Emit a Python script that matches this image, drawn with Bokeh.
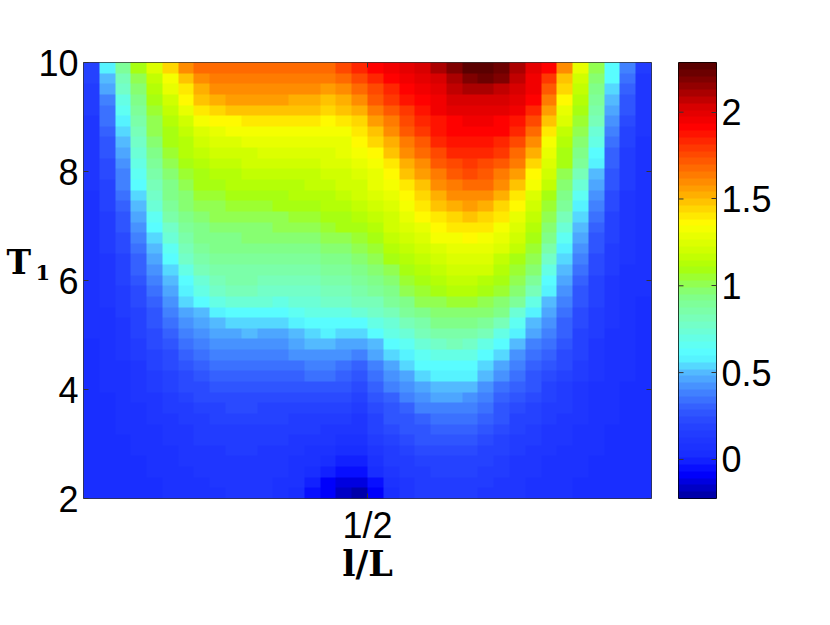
import numpy as np
from bokeh.plotting import figure
from bokeh.layouts import row
from bokeh.models import LinearColorMapper, FixedTicker, Label, Range1d
from bokeh.embed import file_html
from bokeh.resources import INLINE

# rows from T=10 (top) to T=2 (bottom), columns from left to right
r00=[.2,.56,.9,1.08,1.25,1.45,1.6,1.66,1.67,1.67,1.67,1.67,1.67,1.68,1.68,1.69,1.75,1.83,1.92,1.95,1.98,2.05,2.12,2.18,2.27,2.28,2.22,2.12,2.0,1.92,1.6,1.3,1.02,.62,.38,.13]
r01=[.18,.5,.82,1.02,1.18,1.34,1.5,1.6,1.63,1.65,1.65,1.65,1.65,1.65,1.65,1.63,1.68,1.75,1.83,1.9,1.94,1.98,2.05,2.12,2.2,2.22,2.17,2.07,1.97,1.8,1.5,1.2,.98,.6,.33,.12]
r02=[.16,.45,.76,.98,1.13,1.27,1.42,1.53,1.58,1.6,1.6,1.6,1.6,1.58,1.58,1.56,1.6,1.68,1.77,1.84,1.92,1.96,2.0,2.06,2.1,2.1,2.08,2.02,1.95,1.72,1.45,1.15,.93,.55,.3,.11]
r03=[.14,.4,.7,.94,1.1,1.22,1.35,1.47,1.52,1.55,1.55,1.55,1.55,1.54,1.53,1.5,1.52,1.6,1.7,1.79,1.87,1.93,1.97,2.02,2.05,2.05,2.04,1.98,1.9,1.65,1.36,1.12,.9,.5,.27,.1]
r04=[.13,.36,.64,.9,1.06,1.17,1.28,1.39,1.45,1.48,1.49,1.49,1.49,1.49,1.47,1.45,1.47,1.52,1.62,1.72,1.8,1.88,1.94,1.98,2.0,2.0,1.98,1.94,1.82,1.57,1.3,1.08,.85,.45,.25,.1]
r05=[.12,.33,.58,.86,1.03,1.14,1.22,1.31,1.36,1.38,1.4,1.4,1.4,1.4,1.4,1.38,1.4,1.46,1.55,1.65,1.75,1.83,1.89,1.93,1.95,1.95,1.93,1.87,1.74,1.48,1.24,1.05,.8,.42,.22,.09]
r06=[.11,.3,.53,.82,1.0,1.1,1.18,1.25,1.29,1.32,1.33,1.33,1.33,1.33,1.33,1.33,1.34,1.4,1.48,1.6,1.7,1.78,1.86,1.9,1.92,1.92,1.9,1.82,1.66,1.4,1.18,1.02,.72,.39,.2,.09]
r07=[.11,.28,.5,.78,.97,1.08,1.14,1.2,1.23,1.26,1.27,1.28,1.28,1.28,1.28,1.29,1.3,1.35,1.43,1.53,1.63,1.72,1.82,1.86,1.88,1.88,1.85,1.76,1.6,1.33,1.14,.98,.68,.35,.18,.08]
r08=[.1,.26,.47,.74,.94,1.05,1.11,1.16,1.2,1.21,1.22,1.23,1.23,1.23,1.24,1.26,1.28,1.32,1.38,1.47,1.58,1.66,1.76,1.82,1.84,1.83,1.79,1.68,1.52,1.28,1.1,.93,.62,.32,.16,.08]
r09=[.1,.24,.43,.7,.9,1.02,1.08,1.13,1.16,1.18,1.19,1.19,1.2,1.2,1.21,1.23,1.25,1.29,1.34,1.42,1.52,1.61,1.7,1.76,1.79,1.77,1.72,1.62,1.45,1.24,1.07,.88,.56,.3,.15,.08]
r10=[.09,.22,.4,.65,.87,.98,1.05,1.1,1.13,1.14,1.15,1.16,1.16,1.17,1.18,1.2,1.22,1.26,1.3,1.38,1.47,1.55,1.64,1.71,1.74,1.72,1.65,1.55,1.37,1.2,1.03,.82,.52,.27,.14,.08]
r11=[.09,.2,.37,.6,.82,.95,1.02,1.07,1.09,1.11,1.12,1.12,1.13,1.14,1.15,1.17,1.19,1.22,1.27,1.33,1.42,1.5,1.58,1.65,1.68,1.66,1.58,1.47,1.31,1.15,.99,.75,.47,.25,.13,.08]
r12=[.08,.19,.34,.55,.77,.92,.99,1.04,1.06,1.08,1.09,1.09,1.1,1.11,1.12,1.14,1.17,1.2,1.23,1.29,1.37,1.44,1.52,1.58,1.61,1.6,1.52,1.41,1.26,1.1,.94,.66,.43,.23,.12,.07]
r13=[.08,.17,.31,.5,.72,.88,.96,1.01,1.03,1.04,1.05,1.06,1.07,1.08,1.09,1.11,1.14,1.17,1.2,1.26,1.33,1.39,1.47,1.53,1.55,1.53,1.46,1.36,1.21,1.06,.88,.58,.38,.21,.11,.07]
r14=[.08,.16,.28,.46,.66,.84,.93,.98,1.0,1.01,1.02,1.02,1.03,1.04,1.05,1.07,1.1,1.13,1.17,1.22,1.29,1.35,1.41,1.46,1.48,1.46,1.39,1.3,1.17,1.02,.81,.54,.34,.19,.11,.07]
r15=[.07,.15,.26,.42,.6,.78,.89,.95,.97,.98,.99,.99,1.0,1.01,1.02,1.04,1.07,1.1,1.14,1.19,1.25,1.3,1.36,1.4,1.42,1.4,1.33,1.25,1.13,.98,.73,.5,.3,.18,.1,.06]
r16=[.07,.14,.24,.38,.55,.72,.85,.92,.94,.95,.96,.96,.97,.98,.99,1.0,1.03,1.06,1.1,1.15,1.21,1.26,1.31,1.34,1.36,1.34,1.28,1.2,1.09,.93,.65,.45,.27,.17,.1,.06]
r17=[.07,.13,.22,.35,.5,.66,.81,.89,.92,.93,.93,.93,.93,.94,.95,.97,.99,1.02,1.06,1.11,1.17,1.22,1.26,1.29,1.3,1.28,1.23,1.15,1.05,.87,.58,.41,.25,.15,.09,.06]
r18=[.06,.12,.2,.32,.45,.6,.76,.85,.89,.9,.9,.9,.9,.9,.91,.93,.95,.98,1.02,1.07,1.13,1.18,1.22,1.24,1.25,1.23,1.18,1.1,1.0,.78,.55,.37,.23,.14,.09,.05]
r19=[.06,.11,.18,.29,.41,.55,.68,.81,.86,.87,.87,.86,.86,.86,.87,.89,.91,.94,.97,1.03,1.09,1.14,1.18,1.2,1.21,1.19,1.14,1.06,.96,.69,.51,.34,.21,.13,.08,.05]
r20=[.06,.1,.17,.27,.37,.5,.61,.75,.82,.84,.84,.83,.82,.82,.83,.85,.87,.9,.93,.98,1.05,1.1,1.14,1.16,1.16,1.14,1.09,1.0,.88,.6,.47,.31,.2,.12,.08,.05]
r21=[.06,.1,.16,.24,.34,.45,.56,.68,.78,.8,.8,.79,.78,.78,.79,.8,.82,.85,.88,.94,1.0,1.05,1.09,1.11,1.11,1.09,1.04,.96,.8,.56,.42,.28,.18,.11,.07,.05]
r22=[.05,.09,.15,.22,.31,.41,.53,.6,.7,.73,.73,.72,.71,.72,.74,.76,.77,.8,.83,.88,.94,1.0,1.03,1.05,1.05,1.03,.98,.88,.68,.5,.38,.26,.17,.1,.07,.04]
r23=[.05,.08,.13,.2,.28,.37,.46,.52,.59,.62,.62,.61,.61,.64,.68,.7,.7,.72,.77,.82,.88,.94,.98,.99,.99,.96,.92,.75,.58,.45,.35,.23,.15,.1,.06,.04]
r24=[.05,.08,.12,.18,.25,.33,.41,.47,.52,.54,.54,.54,.54,.57,.6,.61,.6,.62,.68,.75,.81,.87,.92,.93,.93,.9,.8,.64,.5,.42,.32,.21,.14,.09,.06,.04]
r25=[.05,.07,.11,.17,.23,.3,.37,.42,.46,.48,.49,.48,.48,.52,.55,.56,.55,.55,.6,.68,.74,.81,.85,.87,.87,.82,.7,.56,.45,.37,.29,.2,.13,.08,.06,.04]
r26=[.04,.07,.1,.15,.21,.27,.33,.38,.41,.43,.43,.42,.43,.46,.5,.5,.48,.45,.52,.6,.66,.74,.78,.8,.79,.7,.6,.49,.4,.33,.26,.18,.12,.08,.05,.04]
r27=[.04,.06,.09,.14,.19,.24,.3,.34,.37,.39,.38,.37,.38,.41,.44,.44,.41,.38,.46,.53,.59,.66,.7,.71,.69,.61,.53,.44,.36,.29,.23,.17,.11,.07,.05,.03]
r28=[.04,.06,.08,.12,.17,.22,.27,.3,.33,.34,.34,.33,.33,.35,.38,.38,.35,.32,.4,.47,.54,.6,.63,.63,.61,.55,.47,.39,.32,.26,.21,.15,.1,.07,.05,.03]
r29=[.04,.05,.08,.11,.15,.2,.24,.27,.3,.31,.31,.3,.29,.31,.33,.33,.3,.27,.35,.42,.48,.55,.58,.58,.56,.49,.41,.34,.28,.23,.18,.14,.09,.06,.05,.03]
r30=[.03,.05,.07,.1,.13,.17,.21,.24,.27,.28,.28,.27,.26,.27,.28,.28,.26,.22,.3,.37,.42,.48,.52,.52,.5,.43,.36,.3,.25,.2,.16,.12,.08,.06,.04,.03]
r31=[.03,.04,.06,.09,.12,.15,.18,.21,.23,.24,.24,.23,.22,.23,.24,.24,.21,.18,.26,.32,.37,.42,.46,.46,.44,.38,.32,.26,.22,.18,.14,.11,.08,.05,.04,.03]
r32=[.03,.04,.06,.08,.1,.13,.16,.18,.2,.21,.21,.2,.19,.19,.19,.18,.17,.14,.22,.28,.32,.37,.4,.4,.38,.33,.28,.23,.19,.16,.13,.1,.07,.05,.04,.03]
r33=[.03,.03,.05,.07,.09,.12,.14,.16,.18,.18,.18,.17,.17,.16,.15,.14,.13,.12,.19,.25,.28,.32,.35,.35,.33,.29,.25,.2,.17,.14,.11,.09,.07,.05,.03,.03]
r34=[.03,.03,.05,.06,.08,.1,.12,.14,.16,.16,.16,.15,.15,.14,.13,.12,.1,.1,.17,.22,.25,.28,.3,.3,.29,.25,.22,.18,.15,.12,.1,.08,.06,.04,.03,.03]
r35=[.03,.03,.04,.05,.07,.09,.11,.13,.14,.14,.14,.13,.13,.12,.11,.1,.08,.08,.14,.19,.22,.25,.27,.27,.25,.22,.19,.16,.13,.11,.09,.07,.05,.04,.03,.03]
r36=[.03,.03,.03,.05,.06,.08,.1,.11,.12,.13,.13,.12,.11,.1,.08,.05,.03,.04,.11,.16,.19,.21,.23,.23,.22,.19,.17,.14,.12,.1,.08,.06,.05,.03,.03,.03]
r37=[.03,.03,.03,.04,.05,.07,.09,.1,.11,.11,.11,.11,.1,.08,.05,.02,-.02,0,.07,.13,.16,.19,.2,.2,.19,.17,.15,.12,.1,.08,.07,.05,.04,.03,.03,.03]
r38=[.03,.03,.03,.03,.05,.06,.08,.09,.1,.1,.1,.1,.09,.06,.02,-.02,-.06,-.05,.02,.1,.13,.16,.18,.18,.17,.15,.13,.11,.09,.07,.06,.05,.03,.03,.03,.03]
r39=[.03,.03,.03,.03,.04,.05,.07,.08,.09,.1,.1,.1,.08,.05,0,-.07,-.12,-.11,-.03,.06,.11,.14,.16,.16,.15,.13,.12,.1,.08,.07,.05,.04,.03,.03,.03,.03]
r40=[.03,.03,.03,.03,.04,.05,.06,.07,.08,.09,.09,.09,.07,.03,-.03,-.1,-.18,-.2,-.09,.03,.1,.13,.15,.15,.14,.12,.11,.09,.07,.06,.05,.04,.03,.03,.03,.03]
rows_top_down=[r00,r01,r02,r03,r04,r05,r06,r07,r08,r09,r10,r11,r12,r13,r14,r15,r16,r17,r18,r19,r20,r21,r22,r23,r24,r25,r26,r27,r28,r29,r30,r31,r32,r33,r34,r35,r36,r37,r38,r39,r40]

vmin, vmax = -0.225, 2.286
t_ticks = [2, 4, 6, 8, 10]
x_tick = [0.5]
cb_ticks = [0, 0.5, 1, 1.5, 2]

# colour scale
cm_v=[-.225,-.1,0,.1,.2,.3,.4,.5,.56,.62,.8,.95,1.1,1.2,1.36,1.45,1.55,1.68,1.8,1.93,2.05,2.18,2.286]
cm_r=[0,0,25,32,40,55,70,85,85,90,120,130,170,205,255,255,255,255,255,255,215,140,90]
cm_g=[0,0,45,55,70,100,140,190,240,255,255,255,255,255,255,215,165,110,60,0,0,0,0]
cm_b=[170,255,255,255,255,255,255,255,255,255,190,130,10,0,0,0,0,0,0,0,0,0,0]
levels=np.linspace(vmin,vmax,64)
palette=["#%02x%02x%02x"%(int(np.interp(v,cm_v,cm_r)),int(np.interp(v,cm_v,cm_g)),int(np.interp(v,cm_v,cm_b))) for v in levels]
mapper=LinearColorMapper(palette=palette,low=vmin,high=vmax)

z=np.array(rows_top_down,dtype=float)[::-1]

FONT="Liberation Sans"
TICK="36px"
LINE="#333333"
H=600

def style(ax):
    ax.axis_line_color=None
    ax.major_tick_line_color=LINE
    ax.major_tick_in=5
    ax.major_tick_out=0
    ax.minor_tick_line_color=None
    ax.major_label_text_font=FONT
    ax.major_label_text_font_size=TICK
    ax.major_label_text_color="#000000"
    ax.major_label_standoff=5

p=figure(width=83+568+10,height=H,frame_width=568,frame_height=436,x_range=Range1d(0,1),y_range=Range1d(2,10),
         output_backend="svg",toolbar_location=None,min_border_left=83,min_border_top=62,min_border_right=10,min_border_bottom=H-62-436)
p.image(image=[z],x=0,y=2,dw=1,dh=8,color_mapper=mapper)
p.grid.visible=False
p.outline_line_color=LINE
p.xaxis.ticker=FixedTicker(ticks=x_tick)
p.xaxis.major_label_overrides={0.5:"1/2"}
p.yaxis.ticker=FixedTicker(ticks=t_ticks)
style(p.xaxis[0]);style(p.yaxis[0])
p.xaxis[0].major_label_standoff=6
p.xaxis.axis_label="l/L"
p.xaxis.axis_label_text_font="DejaVu Serif"
p.xaxis.axis_label_text_font_style="bold"
p.xaxis.axis_label_text_font_size="35px"
p.xaxis.axis_label_text_color="#000000"
p.xaxis.axis_label_standoff=-6
# mirrored ticks on the box's far sides
p.scatter(x=[1]*len(t_ticks),y=t_ticks,marker="dash",size=10,line_color=LINE)
p.scatter(x=x_tick,y=[10],marker="dash",size=10,angle=np.pi/2,line_color=LINE)

p.add_layout(Label(x=-4,y=236,x_units="screen",y_units="screen",text="T",text_font="DejaVu Serif",
                   text_font_style="bold",text_font_size="33px",text_baseline="alphabetic",text_color="#000000"),"left")
p.add_layout(Label(x=-48,y=-210,x_units="screen",y_units="screen",text="1",text_font="DejaVu Serif",
                   text_font_style="bold",text_font_size="21px",text_baseline="alphabetic",text_color="#000000"),"above")

c=figure(width=27+38+100,height=H,frame_width=38,frame_height=436,x_range=Range1d(0,1),y_range=Range1d(vmin,vmax),
         output_backend="svg",toolbar_location=None,min_border_left=17,min_border_top=62,min_border_right=110,min_border_bottom=H-62-436,y_axis_location="right")
c.image(image=[levels.reshape(64,1)],x=0,y=vmin,dw=1,dh=vmax-vmin,color_mapper=mapper)
c.grid.visible=False
c.outline_line_color="#000000"
c.xaxis.visible=False
c.yaxis.ticker=FixedTicker(ticks=cb_ticks)
c.yaxis.major_label_overrides={0:"0",0.5:"0.5",1:"1",1.5:"1.5",2:"2"}
style(c.yaxis[0])
c.yaxis[0].major_label_standoff=5
c.scatter(x=[0]*len(cb_ticks),y=cb_ticks,marker="dash",size=10,line_color=LINE)

layout=row(p,c,spacing=0)
open("out.html","w").write(file_html(layout,INLINE))
